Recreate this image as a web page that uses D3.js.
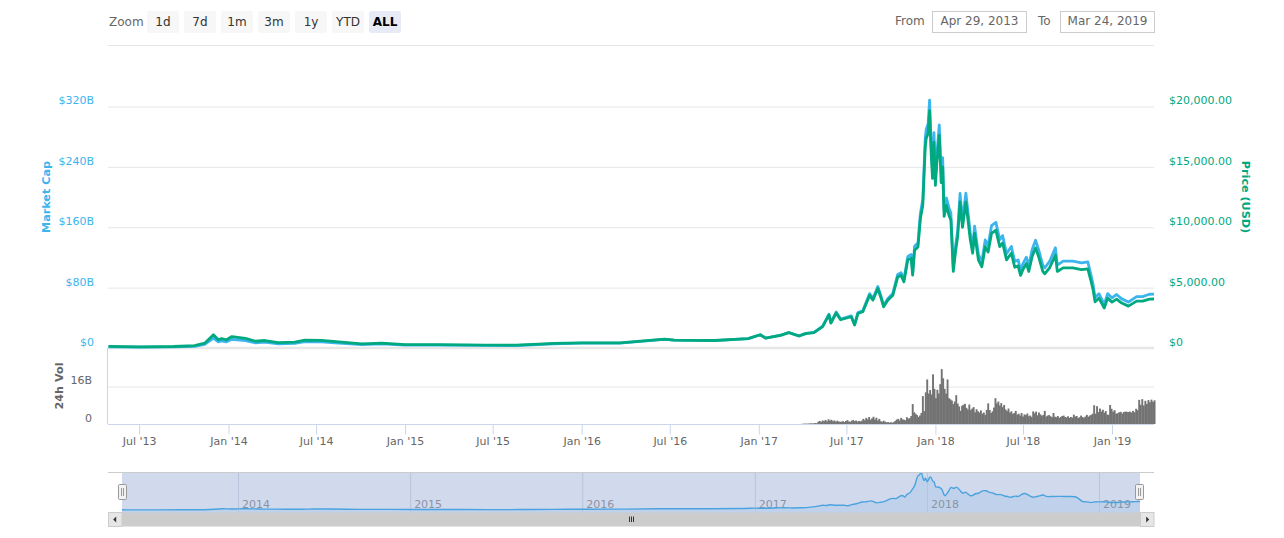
<!DOCTYPE html>
<html><head><meta charset="utf-8">
<script src="https://cdn.jsdelivr.net/npm/d3@7/dist/d3.min.js"></script>
<style>
html,body{margin:0;padding:0;background:#fff}
svg{display:block}
text{font-family:"DejaVu Sans",sans-serif}
.axis path.domain{display:none}
</style></head><body>
<svg id="c" width="1284" height="538"></svg>
<script>
const dates=["2013-04-29","2013-07-01","2013-09-10","2013-10-23","2013-11-13","2013-12-01","2013-12-11","2013-12-18","2013-12-28","2014-01-08","2014-02-05","2014-02-26","2014-03-17","2014-04-14","2014-05-18","2014-06-08","2014-07-12","2014-08-17","2014-10-04","2014-11-14","2015-01-01","2015-03-10","2015-06-15","2015-08-20","2015-11-05","2016-01-01","2016-03-20","2016-06-20","2016-07-10","2016-10-01","2016-12-10","2017-01-04","2017-01-15","2017-02-15","2017-03-04","2017-03-25","2017-04-08","2017-04-25","2017-05-13","2017-05-26","2017-05-30","2017-06-10","2017-06-19","2017-07-11","2017-07-18","2017-07-25","2017-08-04","2017-08-18","2017-08-25","2017-09-04","2017-09-11","2017-09-16","2017-09-25","2017-10-05","2017-10-15","2017-10-22","2017-10-28","2017-11-05","2017-11-12","2017-11-15","2017-11-19","2017-11-26","2017-12-01","2017-12-06","2017-12-11","2017-12-13","2017-12-17","2017-12-20","2017-12-23","2017-12-26","2017-12-29","2018-01-01","2018-01-04","2018-01-09","2018-01-13","2018-01-16","2018-01-19","2018-01-24","2018-01-29","2018-02-02","2018-02-07","2018-02-12","2018-02-16","2018-02-21","2018-02-26","2018-03-05","2018-03-14","2018-03-19","2018-03-23","2018-03-31","2018-04-07","2018-04-14","2018-04-20","2018-04-27","2018-05-06","2018-05-14","2018-05-20","2018-05-28","2018-06-07","2018-06-14","2018-06-21","2018-06-26","2018-07-01","2018-07-08","2018-07-13","2018-07-20","2018-07-27","2018-08-02","2018-08-11","2018-08-15","2018-08-25","2018-09-06","2018-09-10","2018-09-22","2018-10-12","2018-10-30","2018-11-12","2018-11-18","2018-11-23","2018-11-27","2018-12-05","2018-12-16","2018-12-23","2019-01-01","2019-01-10","2019-01-20","2019-02-02","2019-02-18","2019-03-02","2019-03-15","2019-03-24"];
const priceUsd=[135,100,125,190,400,1100,680,780,680,950,800,560,620,440,480,650,630,500,340,400,280,280,240,230,380,430,420,740,660,620,780,1100,820,1050,1270,990,1190,1270,1770,2740,2060,2900,2340,2590,1900,2860,3000,4360,3970,4930,4100,3410,3970,4360,5870,6010,5480,7300,7440,6030,8100,8370,10720,11820,16640,17360,17770,19650,16360,14050,17050,13470,15300,17600,13700,15000,10900,11800,11000,10600,6340,8100,9200,12090,10000,12090,9000,7850,9500,7270,6720,8400,7940,9500,9750,8400,8700,7300,7850,6690,6800,6010,6500,7000,6340,7580,8290,7600,6340,6150,6640,7690,6340,6640,6640,6490,6560,5650,4800,3830,4130,3310,4130,3800,4050,3720,3470,3880,3880,4050,4060];
const marketCapB=[1.5,1.1,1.4,2.2,4.8,13.2,8.2,9.4,8.2,11.5,9.8,6.9,7.7,5.5,6.1,8.3,8.2,6.5,4.5,5.4,3.9,3.9,3.4,3.3,5.6,6.5,6.4,11.5,10.4,9.8,12.4,17.6,13.2,16.9,20.6,16.0,19.3,20.7,28.9,44.9,33.8,47.6,38.4,42.6,31.3,47.1,49.5,72.0,65.6,81.5,67.8,56.5,65.7,72.3,97.4,99.8,91.0,121.4,123.8,100.4,134.9,139.5,178.7,197.2,277.8,290,296.9,328.5,273.7,235.1,285.4,225.6,256.5,295.5,230.2,252.2,183.4,198.7,185.5,178.9,107.0,136.9,155.6,204.7,169.5,205.1,152.8,133.4,161.4,123.7,114.4,143.1,135.4,162.1,166.5,143.6,148.8,124.9,134.5,114.7,116.7,103.2,111.7,120.3,109.1,130.4,142.8,131.0,109.4,106.2,114.7,132.9,109.7,115.1,115.2,112.8,114.2,98.4,83.6,66.8,72.0,57.8,72.1,66.4,70.9,65.1,60.8,68.1,68.1,71.2,71.4];
const volumeB=[.1,.1,.2,.1,.2,.2,.3,.2,.3,.4,.3,
1.0,1.3,.9,1.5,1.2,1.7,1.1,2.0,1.4,1.8,1.2,1.5,1.0,1.4,1.1,.9,
1.0,1.2,.8,1.3,1.6,1.1,.9,1.4,1.7,1.2,1.5,1.0,1.3,1.1,
1.4,2.2,1.6,2.6,2.0,3.0,1.8,2.4,3.1,1.9,2.7,1.5,2.2,
1.2,.9,1.4,1.0,.7,.8,.6,.7,.6,.8,1.3,
1.9,2.2,1.5,2.6,2.0,1.8,1.6,2.9,2.3,2.5,3.4,8.5,
5.0,4.4,3.8,3.0,3.6,4.7,11.9,5.5,13.5,19.0,13,14.5,12.6,21.2,15,11,14.6,13,17,23.4,19.5,15,13,19,11,10.5,10,8.5,9.6,12.3,8.7,7.5,5.6,7.8,8.2,8.6,6.9,6.2,8.3,6,6.6,7.2,
5.0,6.3,5.4,4.9,5.8,4.4,4.9,3.9,6.0,8.8,6.0,4.7,5.4,
7.0,11.0,8.8,9.6,7.9,8.9,7.2,8.1,6.2,5.5,6.6,
4.9,5.4,4.3,4.7,5.6,4.0,4.4,3.6,4.7,3.2,4.1,3.8,4.5,3.3,3.6,3.0,5.4,4.6,5.3,
3.7,4.9,4.1,3.5,3.9,5.6,3.2,3.6,3.8,3.3,2.9,4.7,3.1,2.9,3.4,2.6,3.0,3.4,3.6,3.0,
2.8,3.3,2.6,3.0,2.7,4.0,3.2,3.4,2.5,2.9,3.6,3.0,2.6,3.2,3.9,
3.1,3.6,3.9,4.4,8.0,4.4,7.6,5.1,6.6,5.3,
6.1,4.8,5.5,4.0,3.9,8.1,6.5,5.3,5.9,4.4,
4.6,5.0,5.2,4.5,5.1,5.3,5.2,5.1,5.3,4.9,5.6,5.0,6.5,
5.9,10.3,8.2,10.6,7.9,9.9,8.6,10.2,9.3,10.4,9.5,10.1];
const volumeStart="2017-04-01", volumeStepDays=3;
const xTickDates=["2013-07-01","2014-01-01","2014-07-01","2015-01-01","2015-07-01","2016-01-01","2016-07-01","2017-01-01","2017-07-01","2018-01-01","2018-07-01","2019-01-01"];
const xTickLabels=["Jul '13","Jan '14","Jul '14","Jan '15","Jul '15","Jan '16","Jul '16","Jan '17","Jul '17","Jan '18","Jul '18","Jan '19"];
const capTicks=[0,80,160,240,320], capLabels=["$0","$80B","$160B","$240B","$320B"];
const priceTicks=[0,5000,10000,15000,20000], priceLabels=["$0","$5,000.00","$10,000.00","$15,000.00","$20,000.00"];
const volTicks=[0,16], volLabels=["0","16B"];
const navYears=["2014","2015","2016","2017","2018","2019"];
const zoomButtons=["1d","7d","1m","3m","1y","YTD","ALL"];

const P=d3.utcParse("%Y-%m-%d");
const BLUE="#3cb4ee",GREEN="#00a97f",GRID="#e6e6e6",AX="#ccd6eb";
const L=108,R=1154;
const svg=d3.select("#c");
const x=d3.scaleUtc().domain(["2013-04-29","2014-01-01","2019-01-01","2019-03-24"].map(P)).range([108.5,228.5,1112,1154]);
const yCap=d3.scaleLinear().domain([0,320]).range([348,106.5]);
const yPrice=d3.scaleLinear().domain([0,20000]).range([348,106.5]);
const yVol=d3.scaleLinear().domain([0,16]).range([424,386.5]);
const xNav=d3.scaleUtc().domain(["2013-04-29","2014-01-01","2018-01-01","2019-01-01","2019-03-24"].map(P)).range([122,238,927,1099,1140]);
const yNav=d3.scaleLinear().domain([0,295]).range([510,475]);
const D=dates.map(P);

// toolbar
svg.append("text").attr("x",109).attr("y",26).attr("font-size",12).attr("fill","#666").text("Zoom");
const btn=svg.append("g").selectAll("g").data(zoomButtons).join("g").attr("transform",(d,i)=>`translate(${147+i*37},11)`);
btn.append("rect").attr("width",32).attr("height",22).attr("rx",2).attr("fill",d=>d==="ALL"?"#e6ebf5":"#f7f7f7");
btn.append("text").attr("x",16).attr("y",14.5).attr("text-anchor","middle").attr("font-size",12)
  .attr("font-weight",d=>d==="ALL"?"bold":"normal").attr("fill",d=>d==="ALL"?"#000":"#333").text(d=>d);
svg.append("text").attr("x",895).attr("y",25).attr("font-size",12).attr("fill","#666").text("From");
svg.append("text").attr("x",1038).attr("y",25).attr("font-size",12).attr("fill","#666").text("To");
[[932.5,"Apr 29, 2013"],[1060.5,"Mar 24, 2019"]].forEach(([bx,t])=>{
  svg.append("rect").attr("x",bx).attr("y",11.5).attr("width",94).attr("height",21).attr("fill","#fff").attr("stroke","#ccc");
  svg.append("text").attr("x",bx+47).attr("y",25).attr("text-anchor","middle").attr("font-size",12).attr("fill","#666").text(t);
});
svg.append("line").attr("x1",L).attr("x2",R).attr("y1",45.5).attr("y2",45.5).attr("stroke",GRID);

// grid
const gGrid=svg.append("g").attr("class","axis").attr("transform",`translate(${L},0)`)
  .call(d3.axisLeft(yCap).tickValues(capTicks).tickSize(-(R-L)).tickFormat(""));
gGrid.selectAll("line").attr("stroke",GRID);
svg.append("line").attr("x1",L).attr("x2",R).attr("y1",348).attr("y2",348).attr("stroke",GRID).attr("stroke-width",2.5);
const gVG=svg.append("g").attr("class","axis").attr("transform",`translate(${L},0)`)
  .call(d3.axisLeft(yVol).tickValues([16]).tickSize(-(R-L)).tickFormat(""));
gVG.selectAll("line").attr("stroke",GRID);

// y axes labels
function lab(g,color,dy){g.selectAll("text").attr("font-size",11).attr("fill",color).style("font-family",'"DejaVu Sans",sans-serif').attr("dy",dy);g.selectAll("line").remove();}
svg.append("g").attr("class","axis").attr("transform","translate(94,0)")
  .call(d3.axisLeft(yCap).tickValues(capTicks).tickSize(0).tickPadding(0).tickFormat((d,i)=>capLabels[i])).call(lab,BLUE,"-2.6");
svg.append("g").attr("class","axis").attr("transform","translate(1169,0)")
  .call(d3.axisRight(yPrice).tickValues(priceTicks).tickSize(0).tickPadding(0).tickFormat((d,i)=>priceLabels[i])).call(lab,GREEN,"-2.6");
svg.append("g").attr("class","axis").attr("transform","translate(92,0)")
  .call(d3.axisLeft(yVol).tickValues(volTicks).tickSize(0).tickPadding(0).tickFormat((d,i)=>volLabels[i])).call(lab,"#666","-2.9");
const title=(t,tx,ty,rot,c)=>svg.append("text").attr("transform",`translate(${tx},${ty}) rotate(${rot})`).attr("text-anchor","middle")
  .attr("font-size",11.2).attr("font-weight","bold").attr("fill",c).text(t);
title("Market Cap",49.5,197,-90,BLUE);
title("Price (USD)",1242,197,90,GREEN);
title("24h Vol",62.5,386,-90,"#666");

// volume bars
const volDates=volumeB.map((v,i)=>d3.utcDay.offset(P(volumeStart),i*volumeStepDays));
svg.append("g").selectAll("rect").data(volumeB).join("rect")
  .attr("x",(d,i)=>x(volDates[i])-.9).attr("width",1.9)
  .attr("y",d=>yVol(d)).attr("height",d=>yVol(0)-yVol(d)).attr("fill","#737373");

// lines
const lnCap=d3.line().x((d,i)=>x(D[i])).y(d=>yCap(d)).curve(d3.curveLinear);
const lnPrice=d3.line().x((d,i)=>x(D[i])).y(d=>yPrice(d)).curve(d3.curveLinear);
svg.append("path").datum(marketCapB).attr("d",lnCap).attr("fill","none").attr("stroke",BLUE).attr("stroke-width",2.8).attr("stroke-linejoin","round");
svg.append("path").datum(priceUsd).attr("d",lnPrice).attr("fill","none").attr("stroke",GREEN).attr("stroke-width",2.8).attr("stroke-linejoin","round");

// axes
svg.append("line").attr("x1",107.5).attr("x2",107.5).attr("y1",348).attr("y2",424).attr("stroke",AX);
const gx=svg.append("g").attr("class","axis").attr("transform","translate(0,424.5)")
  .call(d3.axisBottom(x).tickValues(xTickDates.map(P)).tickSize(10).tickPadding(3).tickFormat((d,i)=>xTickLabels[i]));
gx.selectAll("line").attr("stroke",AX);
gx.selectAll("text").attr("font-size",11).attr("fill","#666").style("font-family",'"DejaVu Sans",sans-serif');
svg.append("line").attr("x1",L).attr("x2",R).attr("y1",424.5).attr("y2",424.5).attr("stroke",AX);

// navigator
svg.append("rect").attr("x",122).attr("y",473).attr("width",1018).attr("height",40).attr("fill","#d1d9ed");
const area=d3.area().x((d,i)=>xNav(D[i])).y0(513).y1(d=>yNav(d)).curve(d3.curveBasis);
svg.append("path").datum(marketCapB).attr("d",area).attr("fill","#4aa3df").attr("fill-opacity",.13);
const yrs=navYears.map(y=>P(y+"-01-01"));
svg.append("g").selectAll("line").data(yrs).join("line").attr("x1",d=>xNav(d)+.5).attr("x2",d=>xNav(d)+.5).attr("y1",473).attr("y2",513).attr("stroke","#b9c4dc");
svg.append("g").selectAll("text").data(navYears).join("text").attr("x",(d,i)=>xNav(yrs[i])+4).attr("y",508)
  .attr("font-size",11).attr("fill","#8a93a6").text(d=>d);
svg.append("path").datum(marketCapB).attr("d",d3.line().x((d,i)=>xNav(D[i])).y(d=>yNav(d)).curve(d3.curveBasis)).attr("fill","none").attr("stroke","#4aa3df").attr("stroke-width",1.4);
svg.append("line").attr("x1",L).attr("x2",R).attr("y1",472.5).attr("y2",472.5).attr("stroke","#ccc");
[122.5,1139.5].forEach(h=>{
  const g=svg.append("g").attr("transform",`translate(${h},484)`);
  g.append("rect").attr("x",-4).attr("y",.5).attr("width",8).attr("height",15).attr("rx",1).attr("fill","#f2f2f2").attr("stroke","#999");
  [-1,1].forEach(o=>g.append("line").attr("x1",o).attr("x2",o).attr("y1",4).attr("y2",12).attr("stroke","#999"));
});

// scrollbar
svg.append("rect").attr("x",108).attr("y",512.5).attr("width",1046).attr("height",14).attr("fill","#cccccc");
[[108.5,-1],[1140.5,1]].forEach(([bx,dir])=>{
  svg.append("rect").attr("x",bx).attr("y",512.5).attr("width",13.5).attr("height",14).attr("fill","#e6e6e6").attr("stroke","#ccc");
  const cx=bx+6.7;
  svg.append("path").attr("d",`M${cx+dir*2},519.5L${cx-dir*1},516.5L${cx-dir*1},522.5Z`).attr("fill","#333");
});
[629,631,633].forEach(v=>svg.append("line").attr("x1",v+.5).attr("x2",v+.5).attr("y1",516.5).attr("y2",522).attr("stroke","#333"));
</script>
</body></html>
